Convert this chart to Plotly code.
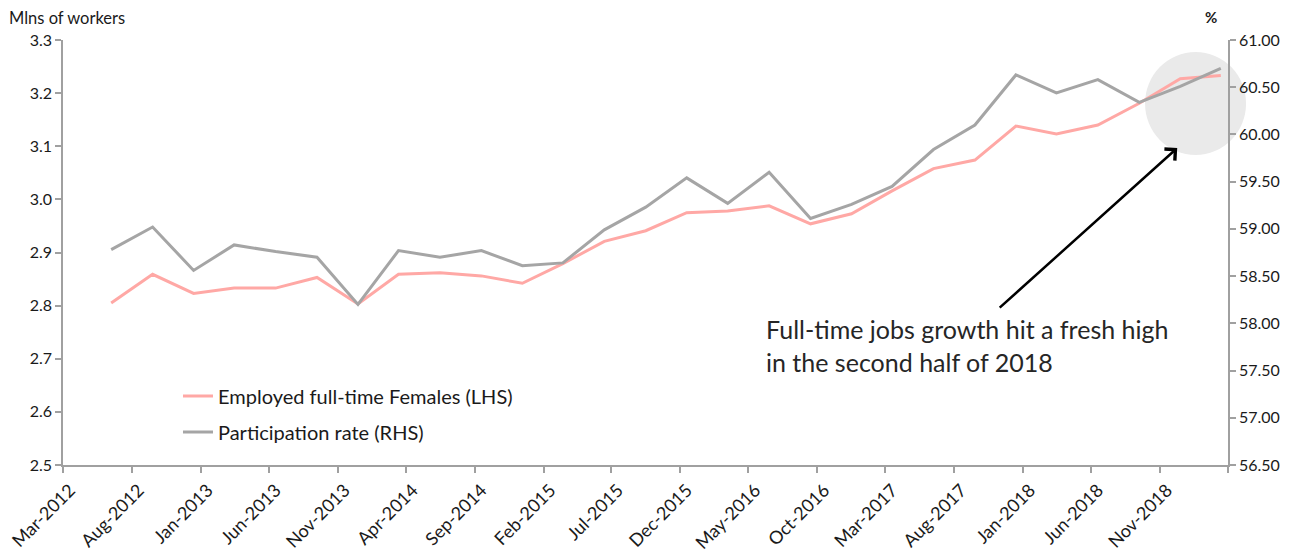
import pandas as pd
import plotly.graph_objects as go

# Quarterly observations (month labels)
quarters = [
    "Jun-2012", "Sep-2012", "Dec-2012", "Mar-2013", "Jun-2013", "Sep-2013", "Dec-2013",
    "Mar-2014", "Jun-2014", "Sep-2014", "Dec-2014", "Mar-2015", "Jun-2015", "Sep-2015",
    "Dec-2015", "Mar-2016", "Jun-2016", "Sep-2016", "Dec-2016", "Mar-2017", "Jun-2017",
    "Sep-2017", "Dec-2017", "Mar-2018", "Jun-2018", "Sep-2018", "Dec-2018", "Mar-2019",
]

# Employed full-time females (millions, LHS)
employed_ft_females = [
    2.805, 2.859, 2.823, 2.833, 2.833, 2.853, 2.803,
    2.859, 2.862, 2.856, 2.842, 2.879, 2.921, 2.941,
    2.975, 2.978, 2.988, 2.954, 2.973, 3.016, 3.058,
    3.074, 3.138, 3.123, 3.140, 3.181, 3.227, 3.233,
]

# Participation rate (%, RHS)
participation_rate = [
    58.78, 59.02, 58.56, 58.83, 58.76, 58.70, 58.20,
    58.77, 58.70, 58.77, 58.61, 58.64, 58.99, 59.23,
    59.54, 59.27, 59.60, 59.11, 59.26, 59.45, 59.84,
    60.10, 60.63, 60.44, 60.58, 60.34, 60.51, 60.70,
]

# Axis tick labels (every 5 months); last tick has no label
tick_labels = [
    "Mar-2012", "Aug-2012", "Jan-2013", "Jun-2013", "Nov-2013", "Apr-2014", "Sep-2014",
    "Feb-2015", "Jul-2015", "Dec-2015", "May-2016", "Oct-2016", "Mar-2017", "Aug-2017",
    "Jan-2018", "Jun-2018", "Nov-2018", "",
]

x_dates = pd.to_datetime(quarters, format="%b-%Y") + pd.Timedelta(days=15)
tick_vals = pd.date_range("2012-03-01", periods=len(tick_labels), freq="5MS")

PINK = "#ffa8a5"
GREY = "#a5a5a5"
AXIS = "#a0a0a0"
FONT = "Lato"
TXT = "#1a1a1a"

fig = go.Figure()
fig.add_trace(go.Scatter(
    x=x_dates, y=employed_ft_females, mode="lines",
    name="Employed full-time Females (LHS)",
    line=dict(color=PINK, width=3), legendgroup="a",
))
fig.add_trace(go.Scatter(
    x=x_dates, y=participation_rate, mode="lines",
    name="Participation rate (RHS)",
    line=dict(color=GREY, width=3), yaxis="y2", legendgroup="b",
))

fig.update_layout(
    width=1301, height=557,
    margin=dict(l=55, r=81, t=32, b=100, autoexpand=False),
    paper_bgcolor="white", plot_bgcolor="white",
    font=dict(family=FONT, size=16, color=TXT),
    showlegend=True,
    legend=dict(
        x=0.0987, y=0.2085, xanchor="left", yanchor="top",
        font=dict(size=20, color=TXT), bgcolor="rgba(0,0,0,0)",
        traceorder="grouped", tracegroupgap=7,
    ),
    xaxis=dict(
        type="date", automargin=False,
        range=[pd.Timestamp("2012-03-01"), pd.Timestamp("2019-04-01")],
        tickvals=tick_vals, ticktext=tick_labels, tickangle=-45,
        ticklabelshift=7, ticklabeloverflow="allow",
        ticks="outside", ticklen=6, tickcolor=AXIS, tickwidth=1.5,
        showline=True, linecolor=AXIS, linewidth=1.5,
        showgrid=False, zeroline=False,
        tickfont=dict(size=18, color=TXT),
    ),
    yaxis=dict(
        range=[2.5, 3.3], dtick=0.1, tickformat=".1f", automargin=False,
        ticks="outside", ticklen=6, tickcolor=AXIS, tickwidth=1.5,
        showline=True, linecolor=AXIS, linewidth=1.5,
        showgrid=False, zeroline=False,
        tickfont=dict(size=16, color=TXT),
    ),
    yaxis2=dict(
        range=[56.5, 61.0], dtick=0.5, tickformat=".2f", automargin=False,
        overlaying="y", side="right",
        ticks="outside", ticklen=6, tickcolor=AXIS, tickwidth=1.5,
        showline=True, linecolor=AXIS, linewidth=1.5,
        showgrid=False, zeroline=False,
        tickfont=dict(size=16, color=TXT),
    ),
)

# highlight circle
fig.add_shape(
    type="circle", xref="paper", yref="paper",
    x0=0.9288, x1=1.0155, y0=0.7294, y1=0.9718,
    fillcolor="#eaeaea", line=dict(width=0), layer="below",
)

# axis titles
fig.add_annotation(
    text="Mlns of workers", xref="paper", yref="paper",
    x=-0.048, y=1.052, xanchor="left", yanchor="middle",
    showarrow=False, font=dict(size=16.5, color=TXT),
)
fig.add_annotation(
    text="<b>%</b>", xref="paper", yref="paper",
    x=0.985, y=1.054, xanchor="center", yanchor="middle",
    showarrow=False, font=dict(size=15, color=TXT),
)

# arrow
fig.add_annotation(
    x=0.9564, y=0.7458, ax=-179, ay=161,
    xref="paper", yref="paper", axref="pixel", ayref="pixel",
    text="", showarrow=True, arrowhead=4, arrowsize=1.2, arrowwidth=2.5,
    arrowcolor="black",
)

# note
fig.add_annotation(
    text="Full-time jobs growth hit a fresh high<br>in the second half of 2018",
    xref="paper", yref="paper", x=0.6018, y=0.36,
    xanchor="left", yanchor="top", align="left", showarrow=False,
    font=dict(size=25, color="#262626"),
)

fig.write_html("out.html")
